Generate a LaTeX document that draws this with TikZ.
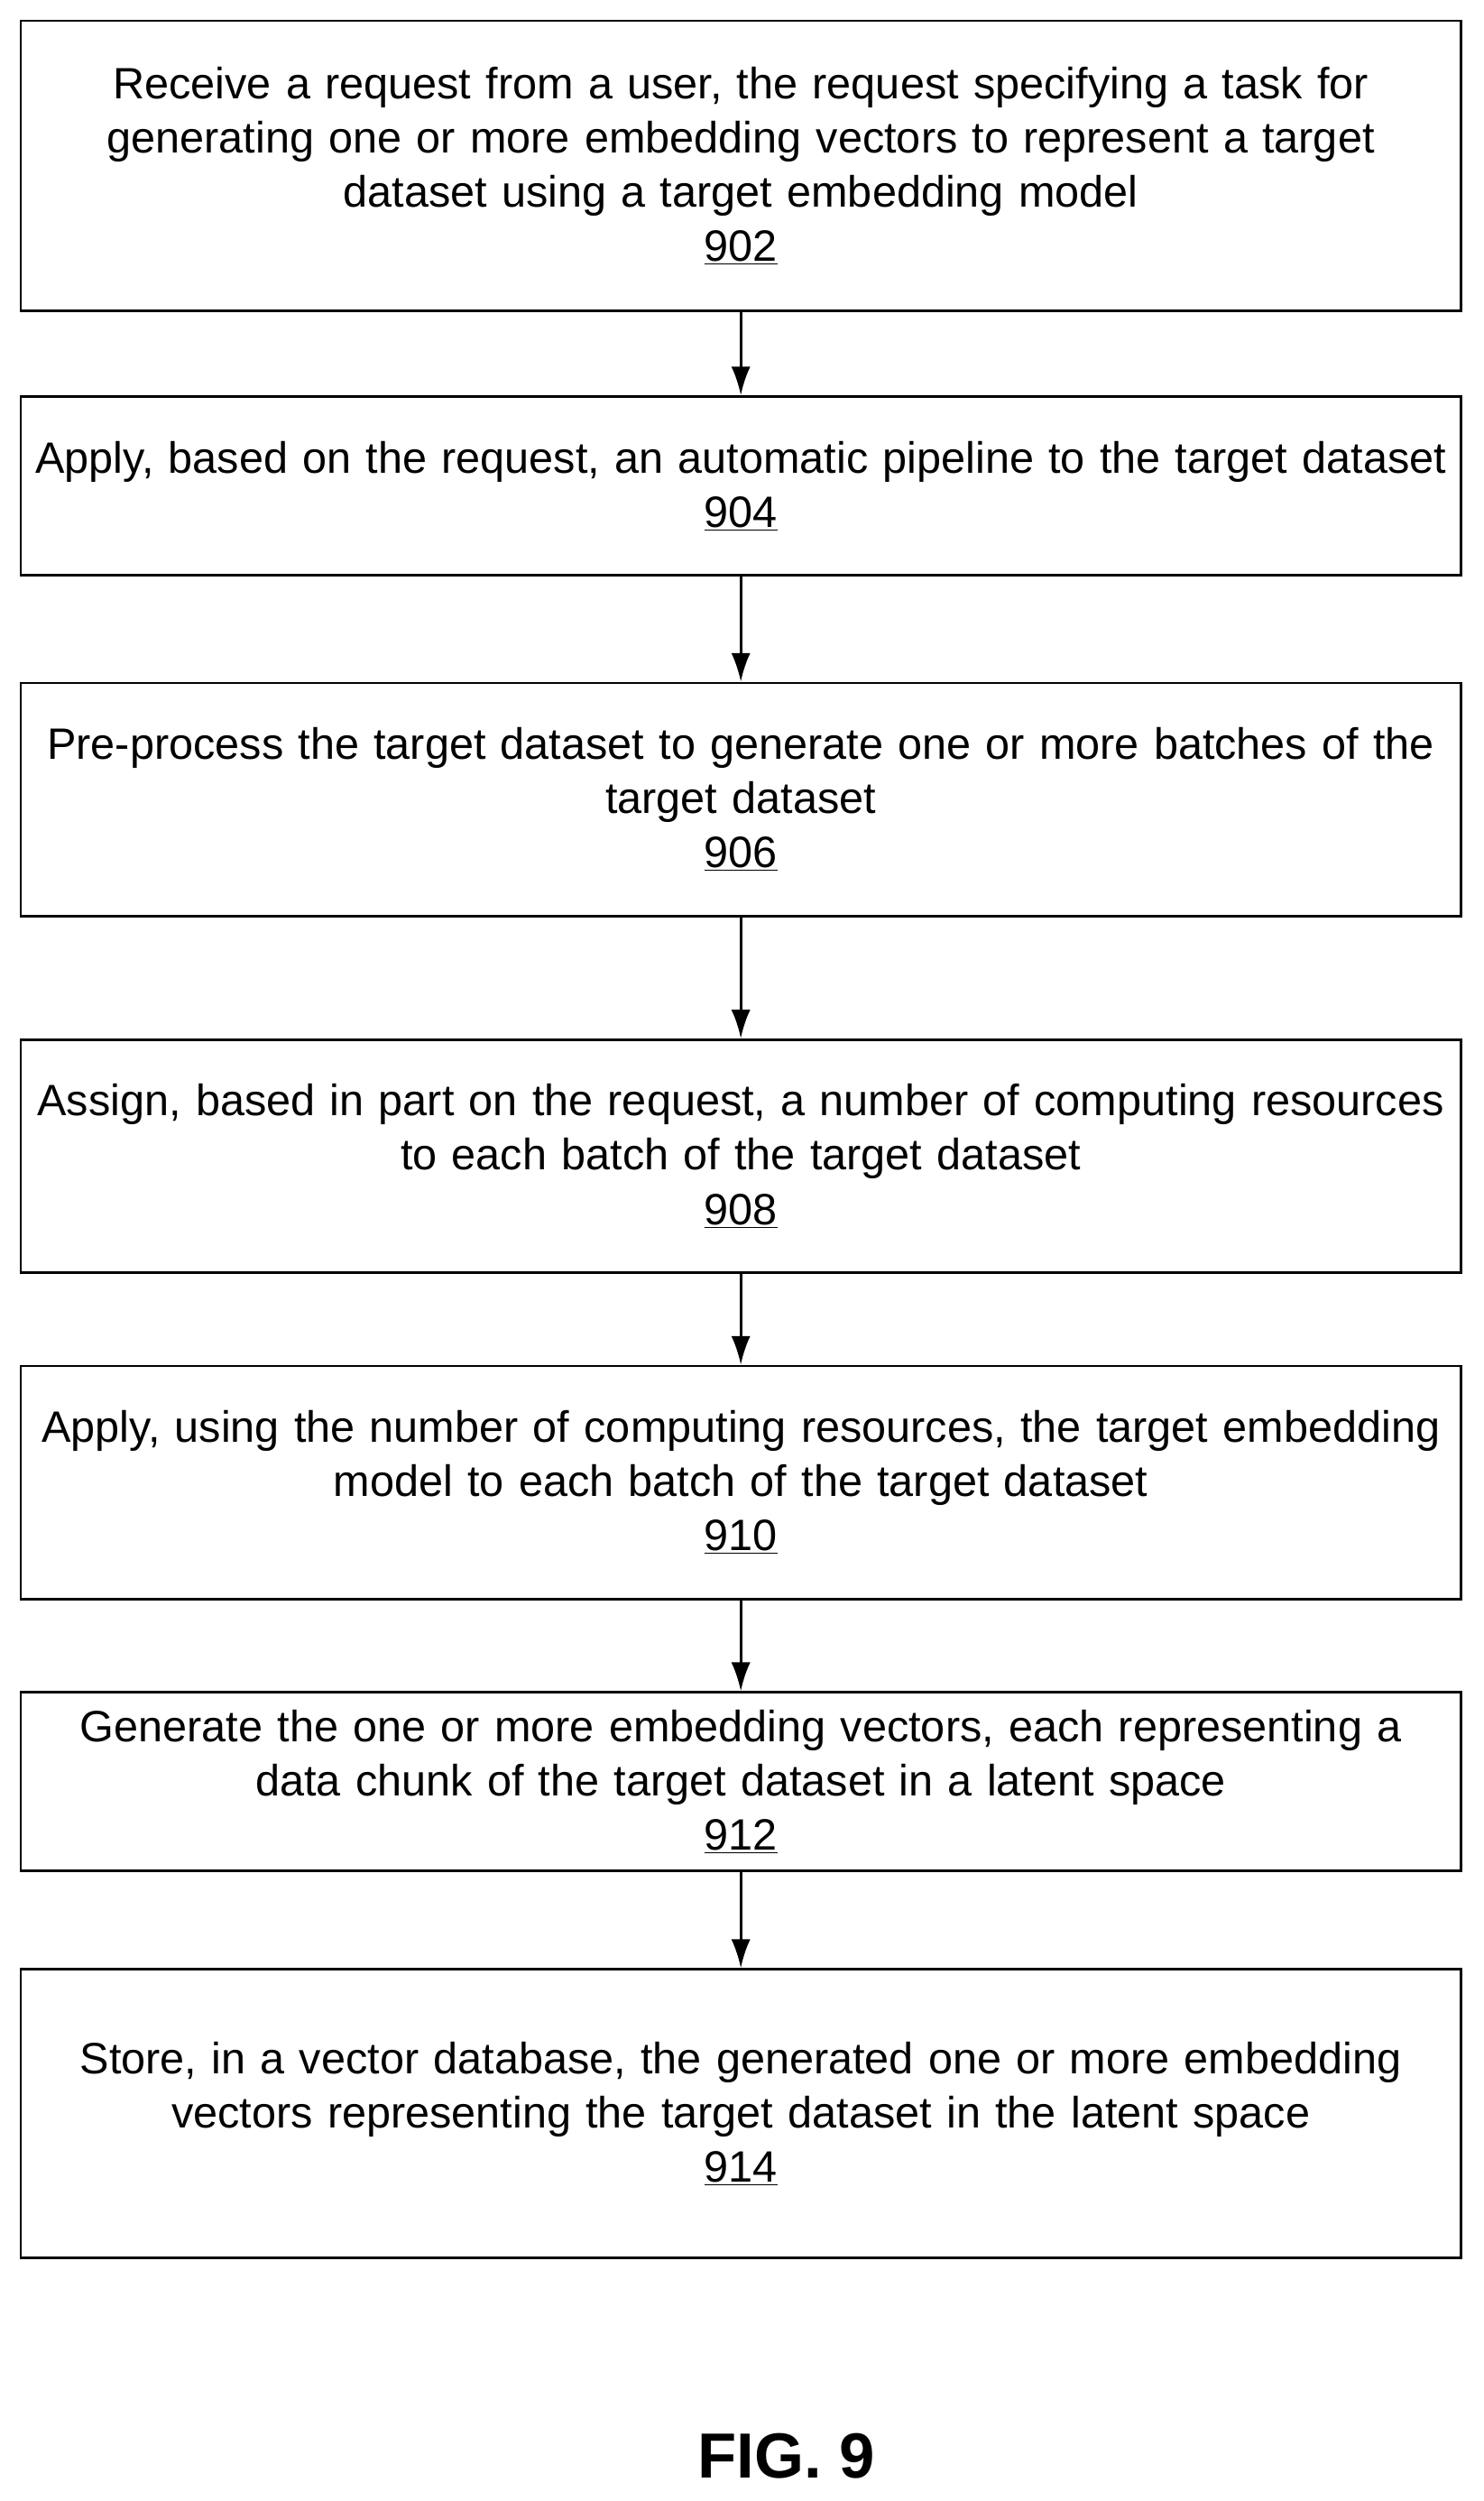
\documentclass[tikz,border=0pt]{standalone}
\usepackage{fontspec}
\setmainfont{Liberation Sans}
\usetikzlibrary{arrows,arrows.meta,positioning,shapes}

\begin{document}
\begin{tikzpicture}[x=1pt,y=-1pt,node distance=55pt]
        \tikzstyle{stage}
	  =[draw, line width=1.6pt, rectangle, text width=900pt,
	  minimum width=903pt, inner sep=0pt, align=center,
	  font=\fontsize{27.5}{34}\selectfont]
        \tikzstyle{flow}
	  =[-{Latex[length=18pt,width=12pt]}, line width=1.6pt]

	\useasboundingbox (0,0) rectangle (930,1568);

	\node[stage, minimum height=182pt] (A)
	  at (464.5,104) {Receive a request from a user, the request specifying a task for\\generating one or more embedding vectors to represent a target\\dataset using a target embedding model\\\underline{902}};
	\node[stage, minimum height=112pt] (B)
	  [below=52pt of A] {Apply, based on the request, an automatic pipeline to the target dataset\\\underline{904}};
	\node[stage, minimum height=146pt] (C)
	  [below=66pt of B] {Pre-process the target dataset to generate one or more batches of the\\target dataset\\\underline{906}};
	\node[stage, minimum height=146pt] (D)
	  [below=76pt of C] {Assign, based in part on the request, a number of computing resources\\to each batch of the target dataset\\\underline{908}};
	\node[stage, minimum height=146pt] (E)
	  [below=57pt of D] {Apply, using the number of computing resources, the target embedding\\model to each batch of the target dataset\\\underline{910}};
	\node[stage, minimum height=112pt] (F)
	  [below=57pt of E] {Generate the one or more embedding vectors, each representing a\\data chunk of the target dataset in a latent space\\\underline{912}};
	\node[stage, minimum height=181pt] (G)
	  [below=60pt of F] {Store, in a vector database, the generated one or more embedding\\vectors representing the target dataset in the latent space\\\underline{914}};

	\node[font=\fontsize{40}{48}\selectfont\bfseries] (fig)
	  at (493,1540) {FIG. 9};

	\draw[flow] (A) -- (B);
	\draw[flow] (B) -- (C);
	\draw[flow] (C) -- (D);
	\draw[flow] (D) -- (E);
	\draw[flow] (E) -- (F);
	\draw[flow] (F) -- (G);
    \end{tikzpicture}
\end{document}
